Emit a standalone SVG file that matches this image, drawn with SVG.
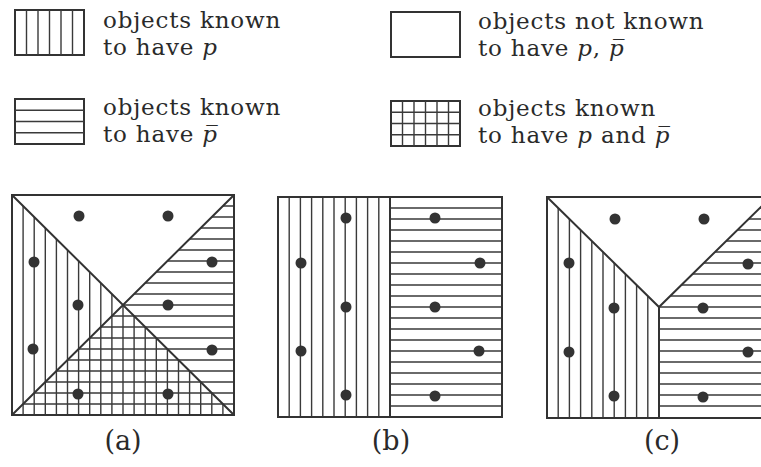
<svg xmlns="http://www.w3.org/2000/svg" width="761" height="467" viewBox="0 0 761 467">
<style>
.bg{fill:#fff}
.box{fill:none;stroke:#333;stroke-width:2}
.h{stroke:#3a3a3a;stroke-width:1.4;fill:none}
.d{fill:#333}
.t{font-family:"DejaVu Serif","Liberation Serif",serif;font-size:23px;letter-spacing:0.8px;fill:#2a2a2a}
.i{font-style:italic}
.lbl{font-family:"DejaVu Serif","Liberation Serif",serif;font-size:27px;fill:#2a2a2a;text-anchor:middle}
</style>
<defs>
<clipPath id="ca-v"><polygon points="12,195 234,415 12,415"/></clipPath>
<clipPath id="ca-h"><polygon points="234,195 234,415 12,415"/></clipPath>
<clipPath id="cc-v"><polygon points="547,197 659,307 659,418 547,418"/></clipPath>
<clipPath id="cc-h"><polygon points="771,197 659,307 659,418 771,418"/></clipPath>
</defs>
<rect class="bg" width="761" height="467"/>

<g id="legend-p">
<rect class="box" x="15" y="10" width="69" height="45"/>
<path class="h" d="M26.5,10V55M38,10V55M49.5,10V55M61,10V55M72.5,10V55"/>
<text class="t" x="103" y="27.5">objects known<tspan x="103" dy="27">to have </tspan><tspan class="i">p</tspan></text>
</g>
<g id="legend-unknown">
<rect class="box" x="391" y="12" width="69" height="45"/>
<text class="t" x="478" y="28.5">objects not known<tspan x="478" dy="27">to have </tspan><tspan class="i">p</tspan>, <tspan class="i">p&#x305;</tspan></text>
</g>
<g id="legend-notp">
<rect class="box" x="15" y="99" width="69" height="45"/>
<path class="h" d="M15,110.25H84M15,121.5H84M15,132.75H84"/>
<text class="t" x="103" y="114.5">objects known<tspan x="103" dy="27">to have </tspan><tspan class="i">p&#x305;</tspan></text>
</g>
<g id="legend-both">
<rect class="box" x="391" y="101" width="69" height="45"/>
<path class="h" d="M402.5,101V146M414,101V146M425.5,101V146M437,101V146M448.5,101V146M391,112.25H460M391,123.5H460M391,134.75H460"/>
<text class="t" x="478" y="115.5">objects known<tspan x="478" dy="27">to have </tspan><tspan class="i">p</tspan> and <tspan class="i">p&#x305;</tspan></text>
</g>

<g id="panel-a">
<path class="h" clip-path="url(#ca-v)" d="M23.1,195V415M34.2,195V415M45.3,195V415M56.4,195V415M67.5,195V415M78.6,195V415M89.7,195V415M100.8,195V415M111.9,195V415M123,195V415M134.1,195V415M145.2,195V415M156.3,195V415M167.4,195V415M178.5,195V415M189.6,195V415M200.7,195V415M211.8,195V415M222.9,195V415"/>
<path class="h" clip-path="url(#ca-h)" d="M12,206H234M12,217H234M12,228H234M12,239H234M12,250H234M12,261H234M12,272H234M12,283H234M12,294H234M12,305H234M12,316H234M12,327H234M12,338H234M12,349H234M12,360H234M12,371H234M12,382H234M12,393H234M12,404H234"/>
<rect class="box" x="12" y="195" width="222" height="220"/>
<path class="box" d="M12,195L234,415M234,195L12,415"/>
<circle class="d" cx="79" cy="216" r="5.5"/><circle class="d" cx="168" cy="216" r="5.5"/>
<circle class="d" cx="34" cy="262" r="5.5"/><circle class="d" cx="212" cy="262" r="5.5"/>
<circle class="d" cx="78" cy="305" r="5.5"/><circle class="d" cx="168" cy="305" r="5.5"/>
<circle class="d" cx="33" cy="349" r="5.5"/><circle class="d" cx="212" cy="350" r="5.5"/>
<circle class="d" cx="78" cy="394" r="5.5"/><circle class="d" cx="168" cy="394" r="5.5"/>
<text class="lbl" x="123" y="450">(a)</text>
</g>

<g id="panel-b">
<path class="h" d="M289.2,197V417M300.4,197V417M311.6,197V417M322.8,197V417M334,197V417M345.2,197V417M356.4,197V417M367.6,197V417M378.8,197V417"/>
<path class="h" d="M390,208H502M390,219H502M390,230H502M390,241H502M390,252H502M390,263H502M390,274H502M390,285H502M390,296H502M390,307H502M390,318H502M390,329H502M390,340H502M390,351H502M390,362H502M390,373H502M390,384H502M390,395H502M390,406H502"/>
<rect class="box" x="278" y="197" width="224" height="220"/>
<path class="box" d="M390,197V417"/>
<circle class="d" cx="346" cy="218" r="5.5"/><circle class="d" cx="435" cy="218" r="5.5"/>
<circle class="d" cx="301" cy="263" r="5.5"/><circle class="d" cx="480" cy="263" r="5.5"/>
<circle class="d" cx="346" cy="307" r="5.5"/><circle class="d" cx="435" cy="307" r="5.5"/>
<circle class="d" cx="301" cy="351" r="5.5"/><circle class="d" cx="479" cy="351" r="5.5"/>
<circle class="d" cx="346" cy="395" r="5.5"/><circle class="d" cx="435" cy="396" r="5.5"/>
<text class="lbl" x="391" y="450">(b)</text>
</g>

<g id="panel-c">
<path class="h" clip-path="url(#cc-v)" d="M558.2,197V418M569.4,197V418M580.6,197V418M591.8,197V418M603,197V418M614.2,197V418M625.4,197V418M636.6,197V418M647.8,197V418"/>
<path class="h" clip-path="url(#cc-h)" d="M659,208H771M659,219H771M659,230H771M659,241H771M659,252H771M659,263H771M659,274H771M659,285H771M659,296H771M659,307H771M659,318H771M659,329H771M659,340H771M659,351H771M659,362H771M659,373H771M659,384H771M659,395H771M659,406H771"/>
<rect class="box" x="547" y="197" width="224" height="221"/>
<path class="box" d="M547,197L659,307L771,197M659,307V418"/>
<circle class="d" cx="615" cy="219" r="5.5"/><circle class="d" cx="704" cy="219" r="5.5"/>
<circle class="d" cx="569" cy="263" r="5.5"/><circle class="d" cx="748" cy="264" r="5.5"/>
<circle class="d" cx="614" cy="308" r="5.5"/><circle class="d" cx="703" cy="308" r="5.5"/>
<circle class="d" cx="569" cy="352" r="5.5"/><circle class="d" cx="748" cy="352" r="5.5"/>
<circle class="d" cx="614" cy="396" r="5.5"/><circle class="d" cx="703" cy="397" r="5.5"/>
<text class="lbl" x="662" y="450">(c)</text>
</g>
</svg>
